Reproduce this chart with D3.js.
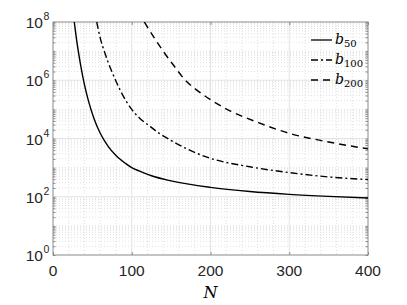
<!DOCTYPE html>
<html><head><meta charset="utf-8">
<script src="https://cdn.jsdelivr.net/npm/d3@7"></script>
<style>body{margin:0;background:#fff}svg{display:block}</style>
</head><body>
<svg id="c" width="407" height="305"></svg>
<script>
// ---- data ----
const N50  = [27, 30, 33, 36, 40, 45, 52, 60, 70, 80, 92, 100, 110, 125, 150, 200, 250, 300, 350, 400];
const b50  = [1e8, 2.4e7, 7.1e6, 2.4e6, 6.9e5, 1.95e5, 4.9e4, 1.51e4, 5.4e3, 2.6e3, 1.4e3, 1.0e3, 759, 525, 350, 209, 151, 121, 103, 91];
const N100 = [55.5, 60, 66.1, 80, 89.4, 100, 110, 121, 135, 148.7, 170, 197.3, 250, 300, 350, 400];
const b100 = [1e8, 2.8e7, 8.3e6, 9.3e5, 2.8e5, 1.0e5, 5.0e4, 2.9e4, 1.5e4, 8.9e3, 4.4e3, 2.2e3, 1.07e3, 676, 479, 389];
const N200 = [116, 130, 142, 155, 168, 183, 199.5, 222.8, 260.9, 301, 350, 400];
const b200 = [1e8, 2.5e7, 8.3e6, 2.8e6, 1.0e6, 4.5e5, 2.2e5, 9.5e4, 3.5e4, 1.48e4, 7.6e3, 4.4e3];
const seriesNames = ["50", "100", "200"];
const xTicks = [0, 100, 200, 300, 400];
const yTickExps = [0, 2, 4, 6, 8];

const svg = d3.select("#c");
const L = 53, R = 368, T = 22, B = 255;
const x = d3.scaleLinear().domain([0, 400]).range([L, R]);
const y = d3.scaleLog().domain([1, 1e8]).range([B, T]);

// minor grid
const g = svg.append("g");
const minorX = d3.range(0, 401, 20).filter(v => v % 100 !== 0);
g.selectAll(".mx").data(minorX).enter().append("line")
  .attr("x1", d => x(d)).attr("x2", d => x(d)).attr("y1", T).attr("y2", B)
  .attr("stroke", "#d4d4d4").attr("stroke-width", 0.7).attr("stroke-dasharray", "1,2");
const minorY = [];
for (let e = 0; e < 8; e++) for (let m = 1; m < 10; m++) { if (m === 1 && e % 2 === 0) continue; minorY.push(m * Math.pow(10, e)); }
g.selectAll(".my").data(minorY).enter().append("line")
  .attr("x1", L).attr("x2", R).attr("y1", d => y(d)).attr("y2", d => y(d))
  .attr("stroke", "#d4d4d4").attr("stroke-width", 0.7).attr("stroke-dasharray", "1,2");
// major grid
g.selectAll(".gx").data(xTicks.slice(1, -1)).enter().append("line")
  .attr("x1", d => x(d)).attr("x2", d => x(d)).attr("y1", T).attr("y2", B)
  .attr("stroke", "#e3e3e3").attr("stroke-width", 1);
g.selectAll(".gy").data(yTickExps.slice(1, -1)).enter().append("line")
  .attr("x1", L).attr("x2", R).attr("y1", d => y(Math.pow(10, d))).attr("y2", d => y(Math.pow(10, d)))
  .attr("stroke", "#e3e3e3").attr("stroke-width", 1);

// axes box with ticks
const axCol = "#8a8a8a";
const xAxB = d3.axisBottom(x).tickValues(xTicks).tickSize(-3).tickFormat("");
const xAxT = d3.axisTop(x).tickValues(xTicks).tickSize(-3).tickFormat("");
const yTickVals = yTickExps.map(e => Math.pow(10, e));
const yAxL = d3.axisLeft(y).tickValues(minorY.concat(yTickVals)).tickSize(-2.5).tickFormat("");
const yAxR = d3.axisRight(y).tickValues(minorY.concat(yTickVals)).tickSize(-2.5).tickFormat("");
function style(sel){ sel.selectAll("path,line").attr("stroke", axCol); sel.select(".domain").attr("stroke-width",1); }
svg.append("g").attr("transform", `translate(0,${B})`).call(xAxB).call(style);
svg.append("g").attr("transform", `translate(0,${T})`).call(xAxT).call(style);
svg.append("g").attr("transform", `translate(${L},0)`).call(yAxL).call(style);
svg.append("g").attr("transform", `translate(${R},0)`).call(yAxR).call(style);
svg.selectAll(".domain").attr("d", null);
svg.append("rect").attr("x", L).attr("y", T).attr("width", R - L).attr("height", B - T)
  .attr("fill", "none").attr("stroke", axCol).attr("stroke-width", 1);

// tick labels
const lab = "Liberation Sans, Arial, sans-serif";
svg.selectAll(".xl").data(xTicks).enter().append("text")
  .attr("x", d => x(d)).attr("y", 276).attr("text-anchor", "middle")
  .attr("font-family", lab).attr("font-size", 15.5).attr("fill", "#262626").text(d => d);
svg.selectAll(".yl").data(yTickExps).enter().append("text")
  .attr("x", 43).attr("y", d => y(Math.pow(10, d)) + 6).attr("text-anchor", "end")
  .attr("font-family", lab).attr("font-size", 15.5).attr("fill", "#262626").text("10");
svg.selectAll(".ye").data(yTickExps).enter().append("text")
  .attr("x", 43.5).attr("y", d => y(Math.pow(10, d)) - 2)
  .attr("font-family", lab).attr("font-size", 10.5).attr("fill", "#262626").text(d => d);

// x label
svg.append("text").attr("x", x(200)).attr("y", 298).attr("text-anchor", "middle")
  .attr("font-family", "DejaVu Serif, serif").attr("font-style", "italic").attr("font-size", 16).text("N");

// curves
svg.append("clipPath").attr("id", "clip").append("rect").attr("x", L).attr("y", T).attr("width", R - L).attr("height", B - T);
const dashes = ["", "7,3,2,3", "7,5"];
const series = [[N50, b50], [N100, b100], [N200, b200]];
const line = d3.line().x(d => x(d[0])).y(d => y(d[1])).curve(d3.curveMonotoneX);
series.forEach((s, i) => {
  svg.append("path").attr("clip-path", "url(#clip)")
    .datum(d3.zip(s[0], s[1])).attr("d", line)
    .attr("fill", "none").attr("stroke", "#000").attr("stroke-width", 1.4)
    .attr("stroke-dasharray", dashes[i] || null);
});

// legend
const lg = svg.append("g");
seriesNames.forEach((nm, i) => {
  const yy = 40 + i * 20;
  lg.append("line").attr("x1", 311).attr("x2", 332).attr("y1", yy).attr("y2", yy)
    .attr("stroke", "#000").attr("stroke-width", 1.3).attr("stroke-dasharray", dashes[i] || null);
  const t = lg.append("text").attr("x", 335).attr("y", yy + 4).attr("font-family", "DejaVu Serif, serif").attr("font-size", 14);
  t.append("tspan").attr("font-style", "italic").text("b");
  t.append("tspan").attr("font-size", 10).attr("dy", 3).text(nm);
});
</script>
</body></html>
